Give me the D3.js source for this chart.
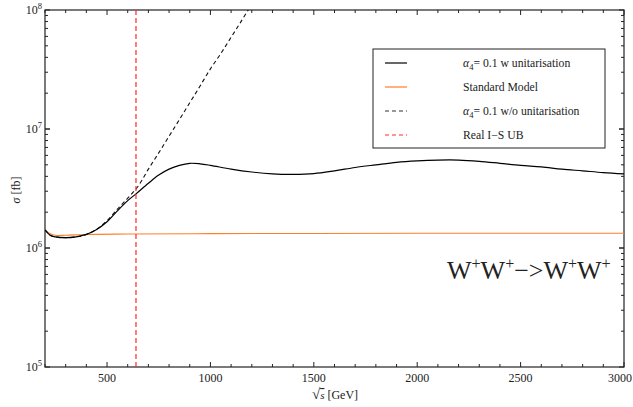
<!DOCTYPE html>
<html><head><meta charset="utf-8">
<script src="https://cdn.jsdelivr.net/npm/d3@7"></script>
<style>body{margin:0;background:#fff}text{font-family:"Liberation Serif","Times New Roman",serif;fill:#222}</style>
</head><body><svg id="c" width="633" height="407"></svg>
<script>
// ---- data ----
const sqrtS_unit = [200,225,250,300,350,400,450,500,550,600,640,700,750,800,850,900,950,1000,1100,1200,1300,1400,1500,1600,1700,1800,1900,2000,2100,2200,2300,2400,2500,2600,2700,2800,2900,3000];
const sigma_unit = [1.42e6,1.28e6,1.24e6,1.22e6,1.24e6,1.30e6,1.43e6,1.66e6,2.05e6,2.5e6,2.85e6,3.5e6,4.1e6,4.6e6,4.95e6,5.15e6,5.1e6,4.95e6,4.6e6,4.35e6,4.2e6,4.16e6,4.22e6,4.45e6,4.75e6,5.0e6,5.25e6,5.4e6,5.48e6,5.48e6,5.35e6,5.15e6,4.95e6,4.8e6,4.6e6,4.45e6,4.3e6,4.19e6];
const sqrtS_sm = [200,225,250,300,400,600,1000,1500,2000,2500,3000];
const sigma_sm = [1.42e6,1.32e6,1.28e6,1.28e6,1.30e6,1.31e6,1.32e6,1.325e6,1.33e6,1.33e6,1.33e6];
const sqrtS_nounit = [200,225,250,300,350,400,450,500,550,600,650,700,750,800,850,900,950,1000,1050,1100,1150,1200];
const sigma_nounit = [1.42e6,1.28e6,1.24e6,1.22e6,1.24e6,1.30e6,1.44e6,1.70e6,2.12e6,2.62e6,3.3e6,4.6e6,6.3e6,8.7e6,1.2e7,1.66e7,2.3e7,3.2e7,4.3e7,5.9e7,8.1e7,1.12e8];
const unitarityBound = 640;
const xTicks = [500,1000,1500,2000,2500,3000];
const yTicks = [5,6,7,8];
const legendLabels = ["w unitarisation","Standard Model","w/o unitarisation","Real I\u2212S UB"];

// ---- layout ----
const L=45,R=624,T=10,B=367;
const svg=d3.select("#c");
const x=d3.scaleLinear().domain([200,3000]).range([L,R]);
const y=d3.scaleLog().domain([1e5,1e8]).range([B,T]);

svg.append("defs").append("clipPath").attr("id","clip").append("rect")
  .attr("x",L).attr("y",T).attr("width",R-L).attr("height",B-T);

// frame
svg.append("rect").attr("x",L).attr("y",T).attr("width",R-L).attr("height",B-T)
  .attr("fill","none").attr("stroke","#222").attr("stroke-width",1.2);

// ticks
const g=svg.append("g").attr("stroke","#222").attr("stroke-width",1);
for(let v=200; v<=3000; v+=100){
  const major = v%500===0;
  const len = major?5:3;
  const xx=x(v);
  g.append("line").attr("x1",xx).attr("x2",xx).attr("y1",B).attr("y2",B-len);
  g.append("line").attr("x1",xx).attr("x2",xx).attr("y1",T).attr("y2",T+len);
}
for(let e=5;e<8;e++){
  for(let m=1;m<=10;m++){
    const v=m*Math.pow(10,e);
    const major=(m===1||m===10);
    const len=major?5:3;
    const yy=y(v);
    g.append("line").attr("x1",L).attr("x2",L+len).attr("y1",yy).attr("y2",yy);
    g.append("line").attr("x1",R).attr("x2",R-len).attr("y1",yy).attr("y2",yy);
  }
}
// tick labels
xTicks.forEach(v=>{
  const last = v===3000;
  svg.append("text").attr("x",last?632:x(v)).attr("y",B+15)
    .attr("text-anchor",last?"end":"middle")
    .attr("font-size",12).text(v);
});
yTicks.forEach(e=>{
  const t=svg.append("text").attr("x",L-3).attr("y",y(Math.pow(10,e))+4).attr("text-anchor","end").attr("font-size",12);
  t.append("tspan").text("10");
  t.append("tspan").attr("font-size",8.5).attr("dy",-5).text(e);
});
// axis labels
const xl=svg.append("text").attr("x",335).attr("y",399).attr("text-anchor","middle").attr("font-size",12);
xl.append("tspan").attr("font-size",15).text("\u221A");
xl.append("tspan").attr("font-style","italic").attr("text-decoration","overline").attr("font-size",11).text("s");
xl.append("tspan").text("  [GeV]");
const yl=svg.append("text").attr("transform","translate(20,190) rotate(-90)").attr("text-anchor","middle").attr("font-size",12);
yl.append("tspan").attr("font-style","italic").text("\u03C3");
yl.append("tspan").text(" [fb]");

// curves
const line=d3.line().x(d=>x(d[0])).y(d=>y(d[1])).curve(d3.curveCatmullRom);
const plot=svg.append("g").attr("clip-path","url(#clip)");
plot.append("path").datum(d3.zip(sqrtS_sm,sigma_sm)).attr("d",line)
  .attr("fill","none").attr("stroke","#ff7f2a").attr("stroke-width",1.1);
plot.append("path").datum(d3.zip(sqrtS_nounit,sigma_nounit)).attr("d",line)
  .attr("fill","none").attr("stroke","#111").attr("stroke-width",1.1).attr("stroke-dasharray","4,3");
plot.append("path").datum(d3.zip(sqrtS_unit,sigma_unit)).attr("d",line)
  .attr("fill","none").attr("stroke","#000").attr("stroke-width",1.2);
plot.append("line").attr("x1",x(unitarityBound)).attr("x2",x(unitarityBound)).attr("y1",T).attr("y2",B)
  .attr("stroke","#ff2a2a").attr("stroke-width",1.2).attr("stroke-dasharray","5,3");

// legend
svg.append("rect").attr("x",373).attr("y",49).attr("width",232).attr("height",99)
  .attr("fill","#fff").attr("stroke","#222").attr("stroke-width",1);
const legStyles=[{c:"#000",d:null},{c:"#ff7f2a",d:null},{c:"#333",d:"4,3"},{c:"#ff2a2a",d:"4,3"}];
legendLabels.forEach((lab,i)=>{
  const yy=63+i*24;
  const ln=svg.append("line").attr("x1",385).attr("x2",407).attr("y1",yy).attr("y2",yy)
    .attr("stroke",legStyles[i].c).attr("stroke-width",1.2);
  if(legStyles[i].d) ln.attr("stroke-dasharray",legStyles[i].d);
  const t=svg.append("text").attr("x",463).attr("y",yy+4).attr("font-size",11.7);
  if(i===0||i===2){
    t.append("tspan").attr("font-style","italic").text("\u03B1");
    t.append("tspan").attr("font-size",8.5).attr("dy",3).text("4");
    t.append("tspan").attr("dy",-3).text("= 0.1 "+lab);
  } else t.text(lab);
});

// process label
const pl=svg.append("text").attr("x",447).attr("y",279).attr("font-size",26);
const sup=(s)=>{pl.append("tspan").attr("font-size",16).attr("dy",-10).text(s);};
pl.append("tspan").text("W"); sup("+");
pl.append("tspan").attr("dy",10).text("W"); sup("+");
pl.append("tspan").attr("dy",10).text("\u2212>W"); sup("+");
pl.append("tspan").attr("dy",10).text("W"); sup("+");
</script></body></html>
